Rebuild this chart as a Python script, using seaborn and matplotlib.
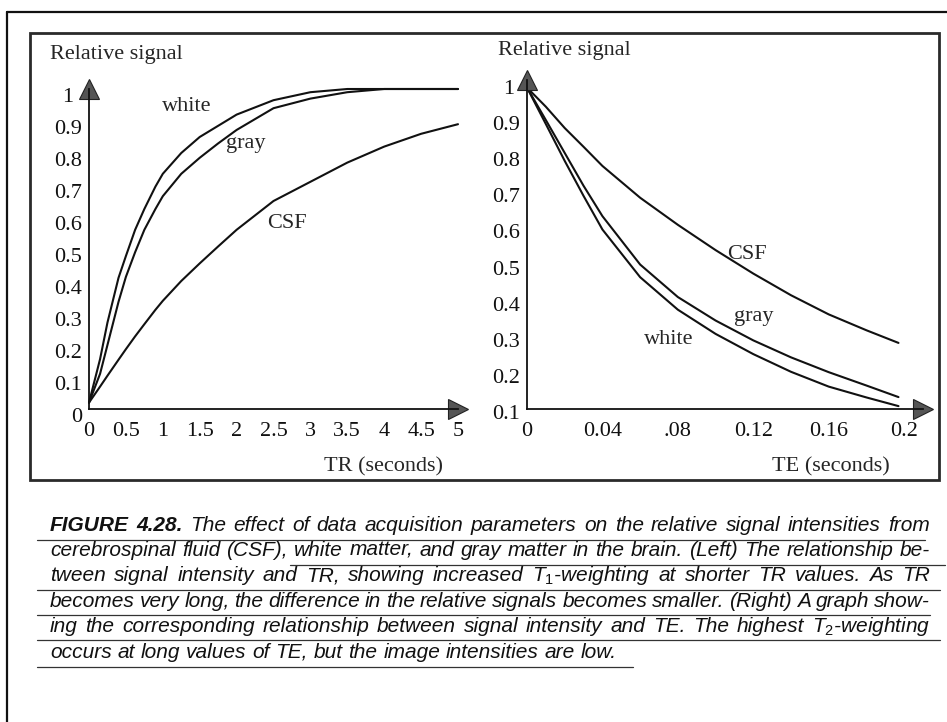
import matplotlib
matplotlib.use("Agg")
import matplotlib.pyplot as plt
import matplotlib.transforms as mtransforms
from matplotlib.lines import Line2D
from matplotlib.patches import Rectangle
import seaborn as sns

# Left panel: relative signal against TR (seconds)
tr = [0, 0.15, 0.25, 0.4, 0.5, 0.625, 0.75, 0.9, 1.0, 1.25, 1.5, 1.75, 2.0, 2.5, 3.0, 3.5, 4.0, 4.5, 5.0]
tr_white = [0.02, 0.156, 0.27, 0.41, 0.478, 0.56, 0.625, 0.695, 0.735, 0.80, 0.85, 0.885, 0.92, 0.965, 0.99, 1.0, 1.0, 1.0, 1.0]
tr_gray = [0.02, 0.11, 0.20, 0.335, 0.413, 0.49, 0.56, 0.625, 0.665, 0.735, 0.785, 0.83, 0.872, 0.94, 0.97, 0.99, 1.0, 1.0, 1.0]
tr_csf = [0.02, 0.07, 0.104, 0.154, 0.187, 0.227, 0.265, 0.31, 0.338, 0.40, 0.455, 0.508, 0.56, 0.65, 0.71, 0.77, 0.82, 0.86, 0.89]

# Right panel: relative signal against TE (seconds)
te = [0, 0.01, 0.02, 0.03, 0.04, 0.06, 0.08, 0.10, 0.12, 0.14, 0.16, 0.18, 0.197]
te_csf = [0.99, 0.937, 0.878, 0.826, 0.773, 0.685, 0.61, 0.54, 0.475, 0.415, 0.362, 0.318, 0.283]
te_gray = [0.99, 0.90, 0.809, 0.718, 0.634, 0.50, 0.41, 0.345, 0.29, 0.243, 0.202, 0.165, 0.133]
te_white = [0.99, 0.889, 0.787, 0.69, 0.597, 0.465, 0.375, 0.308, 0.252, 0.203, 0.162, 0.132, 0.108]

tr_ticks = [0, 0.5, 1, 1.5, 2, 2.5, 3, 3.5, 4, 4.5, 5]
tr_ticklabels = ['0', '0.5', '1', '1.5', '2', '2.5', '3', '3.5', '4', '4.5', '5']
te_ticks = [0, 0.04, 0.08, 0.12, 0.16, 0.2]
te_ticklabels = ['0', '0.04', '.08', '0.12', '0.16', '0.2']
left_sig_ticks = [0, 0.1, 0.2, 0.3, 0.4, 0.5, 0.6, 0.7, 0.8, 0.9, 1.0]
left_sig_labels = ['0', '0.1', '0.2', '0.3', '0.4', '0.5', '0.6', '0.7', '0.8', '0.9', '1']
right_sig_ticks = [0.1, 0.2, 0.3, 0.4, 0.5, 0.6, 0.7, 0.8, 0.9, 1.0]
right_sig_labels = ['0.1', '0.2', '0.3', '0.4', '0.5', '0.6', '0.7', '0.8', '0.9', '1']

caption = [
    "FIGURE 4.28. The effect of data acquisition parameters on the relative signal intensities from",
    "cerebrospinal fluid (CSF), white matter, and gray matter in the brain. (Left) The relationship be-",
    "tween signal intensity and TR, showing increased $T_1$-weighting at shorter TR values. As TR",
    "becomes very long, the difference in the relative signals becomes smaller. (Right) A graph show-",
    "ing the corresponding relationship between signal intensity and TE. The highest $T_2$-weighting",
    "occurs at long values of TE, but the image intensities are low.",
]

sns.set_theme(style="white")
plt.rcParams['font.family'] = ['Liberation Serif', 'DejaVu Serif']
plt.rcParams['mathtext.fontset'] = 'custom'
plt.rcParams['mathtext.rm'] = 'Liberation Sans'
plt.rcParams['mathtext.it'] = 'Liberation Sans:italic'

W, H = 947, 722
fig = plt.figure(figsize=(W / 100, H / 100), dpi=100)


def fx(px):
    return px / W


def fy(py):
    return 1 - py / H


def panel(x0, x1, y0, y1):
    return fig.add_axes([fx(x0), fy(y0), fx(x1) - fx(x0), fy(y1) - fy(y0)])


serif = 16
ink = '#111111'

# ---- left panel
ax1 = panel(89, 458, 409, 89)
for vals in (tr_white, tr_gray, tr_csf):
    sns.lineplot(x=tr, y=vals, ax=ax1, color=ink, linewidth=1.5, clip_on=False)
ax1.set_xlim(0, 5.0)
ax1.set_ylim(0, 1.0)
ax1.text(1.33, 0.944, 'white', fontsize=serif, ha='center', va='center')
ax1.text(2.13, 0.83, 'gray', fontsize=serif, ha='center', va='center')
ax1.text(2.68, 0.58, 'CSF', fontsize=serif, ha='center', va='center')
ax1.set_xticks(tr_ticks, tr_ticklabels)
ax1.set_yticks(left_sig_ticks, left_sig_labels)

# ---- right panel
ax2 = panel(527, 923, 409, 80)
for vals in (te_csf, te_gray, te_white):
    sns.lineplot(x=te, y=vals, ax=ax2, color=ink, linewidth=1.5, clip_on=False)
ax2.set_xlim(0, 0.21)
ax2.set_ylim(0.1, 1.011)
ax2.text(0.1167, 0.529, 'CSF', fontsize=serif, ha='center', va='center')
ax2.text(0.1204, 0.357, 'gray', fontsize=serif, ha='center', va='center')
ax2.text(0.0753, 0.293, 'white', fontsize=serif, ha='center', va='center')
ax2.set_xticks(te_ticks, te_ticklabels)
ax2.set_yticks(right_sig_ticks, right_sig_labels)

for ax, ydrop, top_shift in ((ax1, 6, 9), (ax2, 3, 6)):
    sns.despine(ax=ax)
    for side in ('left', 'bottom'):
        ax.spines[side].set_color(ink)
        ax.spines[side].set_linewidth(1.3)
    ax.set_facecolor('none')
    ax.tick_params(axis='both', length=0, labelsize=serif, colors=ink)
    ax.tick_params(axis='y', pad=5)
    ax.tick_params(axis='x', pad=9)
    ax.set_xlabel('')
    ax.set_ylabel('')
    shift = mtransforms.ScaledTranslation(0, -ydrop / 100, fig.dpi_scale_trans)
    labels = ax.get_yticklabels()
    for lbl in labels:
        lbl.set_transform(lbl.get_transform() + shift)
    # the top label "1" sits left of the arrow head
    labels[-1].set_transform(labels[-1].get_transform() +
                             mtransforms.ScaledTranslation(-top_shift / 100, 0, fig.dpi_scale_trans))
    ax.plot(1, 0, '>', transform=ax.transAxes, clip_on=False, ms=14,
            mfc='#555555', mec='#222222', mew=0.8)
    ax.plot(0, 1, '^', transform=ax.transAxes, clip_on=False, ms=14,
            mfc='#555555', mec='#222222', mew=0.8)

fig.text(fx(50), fy(54), 'Relative signal', fontsize=serif, ha='left', va='center')
fig.text(fx(498), fy(50), 'Relative signal', fontsize=serif, ha='left', va='center')
fig.text(fx(383), fy(467), 'TR (seconds)', fontsize=serif, ha='center', va='center')
fig.text(fx(831), fy(467), 'TE (seconds)', fontsize=serif, ha='center', va='center')

# frames
fig.add_artist(Line2D([fx(7), fx(947)], [fy(12), fy(12)], color=ink, lw=1.6))
fig.add_artist(Line2D([fx(7), fx(7)], [fy(12), fy(722)], color=ink, lw=1.6))
fig.add_artist(Rectangle((fx(30), fy(480)), fx(939) - fx(30), fy(33) - fy(480),
                         fill=False, ec='#2a2a2a', lw=2.0))

# caption, justified word by word
cap_font = ['Liberation Sans', 'DejaVu Sans']
cap_size = 15
renderer = fig.canvas.get_renderer()
cap_left, cap_right = 50, 930
baselines = [531, 556, 581, 607, 632, 658]
underlines = [(37, 925, 540), (290, 945, 565), (37, 940, 590),
              (37, 930, 615), (37, 940, 640), (37, 633, 667)]

for i, line in enumerate(caption):
    words = line.split(' ')
    arts = []
    for j, w in enumerate(words):
        bold = (i == 0 and j < 2)
        t = fig.text(0, fy(baselines[i]), w, fontsize=cap_size, style='italic',
                     weight='bold' if bold else 'normal', family=cap_font,
                     ha='left', va='baseline', color=ink)
        arts.append(t)
    widths = [t.get_window_extent(renderer).width for t in arts]
    if i < len(caption) - 1:
        gap = (cap_right - cap_left - sum(widths)) / (len(words) - 1)
    else:
        gap = 0.278 * cap_size * 100 / 72
    x = cap_left
    for t, wd in zip(arts, widths):
        t.set_x(fx(x))
        x += wd + gap

for x0, x1, y in underlines:
    fig.add_artist(Line2D([fx(x0), fx(x1)], [fy(y), fy(y)], color='#333333', lw=0.9))

fig.savefig('out.png', dpi=100, facecolor='white')
